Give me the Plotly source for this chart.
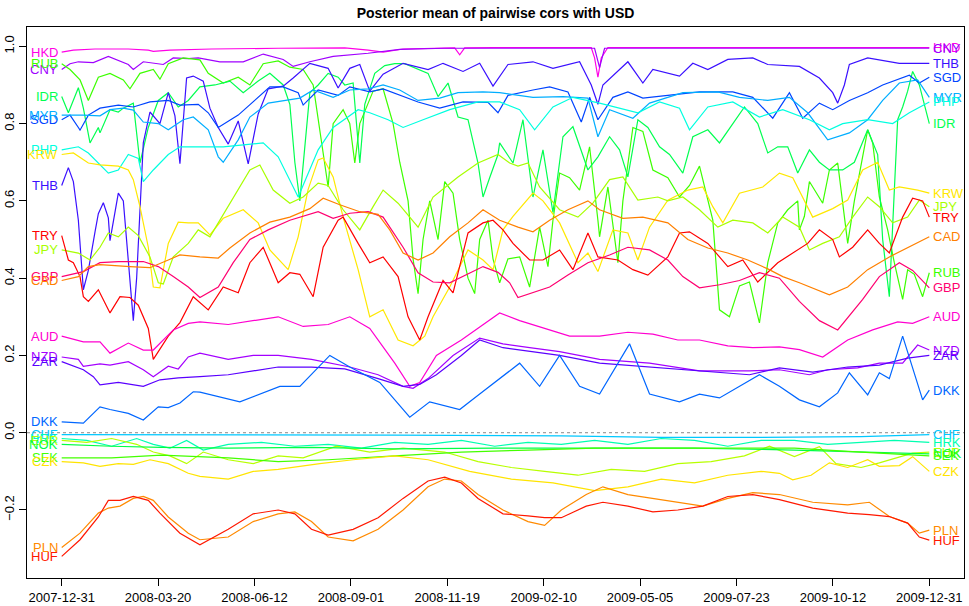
import plotly.graph_objects as go

# ---------------- data ----------------
tick_labels = ["2007-12-31", "2008-03-20", "2008-06-12", "2008-09-01", "2008-11-19",
               "2009-02-10", "2009-05-05", "2009-07-23", "2009-10-12", "2009-12-31"]
last_obs = 521  # trading-day index of 2009-12-31

t_HKD = [0, 7, 20, 40, 52, 55, 65, 90, 130, 170, 184, 193, 205, 236, 239, 242, 260, 318, 320, 322, 324, 328, 400, 521]
v_HKD = [0.985, 0.99, 0.993, 0.993, 0.99, 0.987, 0.99, 0.993, 0.995, 0.996, 0.99, 0.985, 0.993, 0.996, 0.978, 0.996, 0.997, 0.997, 0.97, 0.92, 0.97, 0.997, 0.997, 0.997]

t_CNY = [0, 5, 10, 19, 28, 40, 43, 49, 61, 67, 76, 82, 95, 109, 121, 133, 139, 149, 163, 184, 203, 230, 320, 323, 326, 521]
v_CNY = [0.94, 0.955, 0.96, 0.958, 0.974, 0.953, 0.94, 0.96, 0.953, 0.97, 0.968, 0.97, 0.96, 0.96, 0.98, 0.966, 0.948, 0.96, 0.974, 0.982, 0.992, 0.995, 0.995, 0.945, 0.995, 0.995]

t_RUB = [0, 5, 11, 16, 22, 29, 37, 41, 47, 55, 59, 64, 73, 83, 88, 97, 106, 113, 121, 130, 137, 145, 151, 155, 160, 163, 169, 173, 176, 179, 184, 187, 193, 199, 203, 208, 211, 214, 217, 221, 226, 230, 235, 239, 244, 248, 251, 256, 259, 263, 268, 275, 281, 287, 292, 295, 299, 305, 311, 317, 322, 323, 328, 334, 337, 343, 349, 355, 364, 371, 377, 383, 391, 395, 401, 407, 413, 419, 424, 430, 436, 442, 443, 446, 449, 457, 461, 466, 472, 476, 484, 487, 491, 496, 500, 505, 508, 512, 517, 521]
v_RUB = [0.955, 0.94, 0.913, 0.86, 0.92, 0.93, 0.913, 0.89, 0.93, 0.94, 0.915, 0.955, 0.97, 0.965, 0.93, 0.905, 0.92, 0.9, 0.955, 0.962, 0.946, 0.94, 0.9, 0.78, 0.636, 0.8, 0.836, 0.8, 0.698, 0.8, 0.853, 0.884, 0.89, 0.8, 0.7, 0.6, 0.45, 0.36, 0.5, 0.6, 0.5, 0.65, 0.62, 0.5, 0.4, 0.36, 0.5, 0.55, 0.45, 0.388, 0.45, 0.455, 0.377, 0.532, 0.43, 0.55, 0.672, 0.66, 0.628, 0.74, 0.55, 0.507, 0.636, 0.44, 0.6, 0.79, 0.78, 0.68, 0.66, 0.61, 0.64, 0.69, 0.55, 0.318, 0.3, 0.38, 0.39, 0.284, 0.44, 0.543, 0.577, 0.6, 0.525, 0.56, 0.65, 0.594, 0.68, 0.698, 0.49, 0.6, 0.784, 0.75, 0.61, 0.525, 0.44, 0.345, 0.422, 0.41, 0.352, 0.414]

t_IDR = [0, 4, 10, 13, 17, 22, 23, 29, 34, 37, 43, 47, 52, 58, 64, 70, 76, 83, 92, 101, 109, 118, 125, 133, 137, 140, 143, 146, 149, 154, 160, 166, 170, 175, 179, 182, 188, 194, 200, 206, 214, 220, 226, 232, 238, 244, 250, 253, 257, 262, 263, 271, 277, 283, 289, 295, 301, 307, 316, 322, 329, 335, 340, 346, 352, 359, 365, 373, 379, 388, 395, 403, 410, 418, 424, 430, 436, 442, 449, 455, 461, 469, 476, 484, 490, 493, 497, 502, 505, 508, 511, 515, 521]
v_IDR = [0.87, 0.828, 0.893, 0.84, 0.75, 0.79, 0.776, 0.836, 0.83, 0.84, 0.853, 0.698, 0.79, 0.86, 0.88, 0.843, 0.86, 0.895, 0.9, 0.91, 0.88, 0.91, 0.93, 0.9, 0.85, 0.7, 0.6, 0.75, 0.88, 0.9, 0.93, 0.92, 0.9, 0.905, 0.698, 0.85, 0.93, 0.95, 0.955, 0.955, 0.94, 0.93, 0.87, 0.905, 0.817, 0.81, 0.698, 0.61, 0.66, 0.72, 0.75, 0.698, 0.81, 0.61, 0.732, 0.57, 0.766, 0.792, 0.68, 0.714, 0.766, 0.732, 0.662, 0.81, 0.79, 0.74, 0.72, 0.672, 0.766, 0.784, 0.75, 0.8, 0.843, 0.8, 0.724, 0.74, 0.74, 0.672, 0.732, 0.7, 0.68, 0.68, 0.7, 0.784, 0.72, 0.5, 0.352, 0.81, 0.843, 0.884, 0.935, 0.9, 0.8]

t_THB = [0, 2, 4, 7, 10, 13, 16, 20, 22, 25, 28, 29, 34, 37, 40, 43, 45, 49, 53, 59, 64, 68, 71, 75, 79, 85, 89, 94, 100, 106, 112, 118, 124, 133, 139, 149, 160, 166, 173, 179, 185, 193, 205, 220, 229, 241, 251, 259, 268, 283, 295, 311, 318, 322, 325, 340, 349, 355, 371, 379, 388, 400, 415, 424, 443, 455, 463, 466, 470, 473, 484, 503, 521]
v_THB = [0.64, 0.665, 0.686, 0.65, 0.55, 0.37, 0.42, 0.52, 0.567, 0.595, 0.556, 0.497, 0.62, 0.6, 0.45, 0.29, 0.4, 0.75, 0.83, 0.8, 0.88, 0.82, 0.696, 0.918, 0.923, 0.91, 0.84, 0.79, 0.747, 0.807, 0.696, 0.825, 0.89, 0.897, 0.918, 0.956, 0.943, 0.892, 0.943, 0.953, 0.884, 0.928, 0.956, 0.94, 0.956, 0.935, 0.956, 0.897, 0.953, 0.96, 0.943, 0.96, 0.9, 0.85, 0.9, 0.96, 0.905, 0.94, 0.923, 0.956, 0.94, 0.966, 0.97, 0.953, 0.948, 0.918, 0.88, 0.853, 0.9, 0.953, 0.97, 0.956, 0.956]

t_SGD = [0, 5, 10, 11, 16, 23, 34, 43, 53, 64, 71, 82, 88, 94, 106, 118, 125, 133, 142, 145, 154, 166, 173, 185, 193, 214, 227, 241, 256, 262, 268, 283, 293, 304, 312, 317, 322, 331, 340, 349, 364, 383, 403, 415, 427, 437, 445, 455, 463, 473, 484, 493, 509, 515, 521]
v_SGD = [0.81, 0.822, 0.79, 0.783, 0.822, 0.84, 0.848, 0.843, 0.856, 0.86, 0.848, 0.85, 0.828, 0.79, 0.822, 0.868, 0.895, 0.895, 0.88, 0.848, 0.887, 0.873, 0.895, 0.882, 0.89, 0.856, 0.84, 0.856, 0.855, 0.828, 0.873, 0.887, 0.895, 0.882, 0.804, 0.868, 0.81, 0.868, 0.882, 0.866, 0.873, 0.882, 0.882, 0.868, 0.814, 0.88, 0.814, 0.853, 0.836, 0.86, 0.88, 0.9, 0.925, 0.905, 0.92]

t_MYR = [0, 13, 23, 29, 37, 43, 49, 58, 64, 73, 79, 88, 94, 97, 106, 113, 124, 133, 143, 151, 163, 173, 184, 193, 203, 214, 227, 238, 253, 263, 283, 301, 316, 322, 329, 343, 353, 373, 394, 407, 424, 437, 448, 460, 473, 484, 493, 503, 514, 521]
v_MYR = [0.822, 0.822, 0.82, 0.836, 0.84, 0.835, 0.804, 0.8, 0.784, 0.81, 0.817, 0.784, 0.714, 0.7, 0.758, 0.817, 0.853, 0.86, 0.866, 0.887, 0.868, 0.887, 0.89, 0.9, 0.887, 0.86, 0.866, 0.88, 0.882, 0.88, 0.868, 0.87, 0.866, 0.766, 0.836, 0.814, 0.853, 0.88, 0.882, 0.868, 0.86, 0.868, 0.828, 0.758, 0.776, 0.81, 0.86, 0.905, 0.913, 0.868]

t_PHP = [0, 10, 16, 22, 28, 34, 40, 46, 49, 55, 64, 71, 83, 97, 109, 121, 130, 142, 154, 163, 178, 185, 196, 205, 217, 233, 250, 263, 275, 284, 295, 307, 323, 346, 359, 371, 377, 388, 403, 419, 433, 449, 461, 469, 484, 499, 509, 521]
v_PHP = [0.732, 0.74, 0.724, 0.698, 0.672, 0.68, 0.72, 0.71, 0.65, 0.68, 0.72, 0.74, 0.74, 0.74, 0.745, 0.75, 0.714, 0.61, 0.732, 0.79, 0.836, 0.828, 0.81, 0.79, 0.81, 0.836, 0.856, 0.856, 0.836, 0.784, 0.843, 0.868, 0.853, 0.828, 0.856, 0.84, 0.784, 0.843, 0.856, 0.817, 0.836, 0.81, 0.784, 0.8, 0.81, 0.8, 0.828, 0.856]

t_KRW = [0, 7, 16, 23, 34, 40, 43, 47, 52, 55, 59, 64, 70, 76, 82, 89, 97, 109, 118, 125, 136, 142, 148, 154, 157, 163, 169, 178, 185, 193, 202, 211, 218, 223, 233, 244, 253, 259, 265, 271, 283, 289, 299, 310, 316, 322, 331, 340, 346, 353, 364, 376, 385, 391, 397, 407, 421, 431, 439, 451, 463, 472, 481, 490, 497, 503, 514, 521]
v_KRW = [0.72, 0.724, 0.698, 0.693, 0.69, 0.68, 0.655, 0.585, 0.48, 0.377, 0.375, 0.49, 0.545, 0.543, 0.543, 0.512, 0.555, 0.577, 0.543, 0.473, 0.422, 0.507, 0.63, 0.706, 0.711, 0.662, 0.558, 0.422, 0.3, 0.318, 0.24, 0.225, 0.25, 0.3, 0.377, 0.473, 0.447, 0.422, 0.525, 0.56, 0.62, 0.6, 0.543, 0.44, 0.465, 0.417, 0.525, 0.517, 0.447, 0.532, 0.602, 0.628, 0.636, 0.585, 0.543, 0.62, 0.636, 0.672, 0.66, 0.558, 0.58, 0.602, 0.68, 0.7, 0.628, 0.636, 0.628, 0.62]

t_JPY = [0, 10, 17, 23, 28, 34, 40, 46, 53, 58, 61, 67, 76, 82, 89, 101, 113, 119, 127, 137, 145, 154, 160, 169, 179, 187, 193, 202, 214, 223, 238, 250, 262, 269, 274, 280, 287, 299, 310, 319, 329, 337, 346, 358, 364, 373, 383, 394, 403, 415, 424, 433, 443, 449, 457, 467, 475, 484, 491, 499, 508, 515, 521]
v_JPY = [0.473, 0.465, 0.447, 0.48, 0.517, 0.507, 0.532, 0.51, 0.455, 0.388, 0.385, 0.455, 0.49, 0.525, 0.507, 0.594, 0.68, 0.693, 0.628, 0.594, 0.61, 0.646, 0.64, 0.577, 0.525, 0.585, 0.628, 0.594, 0.532, 0.61, 0.662, 0.698, 0.72, 0.698, 0.69, 0.698, 0.636, 0.577, 0.558, 0.594, 0.655, 0.662, 0.602, 0.61, 0.6, 0.61, 0.577, 0.532, 0.55, 0.543, 0.517, 0.558, 0.532, 0.473, 0.49, 0.507, 0.558, 0.61, 0.585, 0.543, 0.558, 0.602, 0.585]

t_TRY = [0, 4, 7, 11, 13, 16, 22, 29, 35, 41, 46, 52, 55, 64, 71, 79, 88, 97, 106, 113, 121, 130, 137, 143, 151, 157, 166, 169, 178, 185, 193, 202, 208, 215, 220, 226, 229, 235, 244, 253, 259, 265, 271, 281, 289, 299, 307, 316, 322, 334, 343, 352, 364, 371, 377, 388, 400, 409, 418, 430, 439, 448, 455, 463, 467, 475, 484, 491, 497, 505, 511, 517, 521]
v_TRY = [0.51, 0.447, 0.44, 0.404, 0.352, 0.34, 0.37, 0.31, 0.352, 0.35, 0.33, 0.27, 0.19, 0.25, 0.285, 0.352, 0.318, 0.377, 0.362, 0.44, 0.48, 0.388, 0.414, 0.41, 0.352, 0.48, 0.55, 0.558, 0.49, 0.44, 0.455, 0.404, 0.3, 0.24, 0.3, 0.36, 0.394, 0.362, 0.517, 0.543, 0.55, 0.525, 0.49, 0.447, 0.447, 0.473, 0.422, 0.517, 0.455, 0.447, 0.422, 0.408, 0.455, 0.517, 0.52, 0.49, 0.43, 0.447, 0.39, 0.44, 0.465, 0.49, 0.525, 0.5, 0.455, 0.48, 0.525, 0.49, 0.465, 0.558, 0.607, 0.6, 0.558]

t_GBP = [0, 13, 23, 34, 49, 58, 67, 76, 83, 94, 103, 113, 124, 137, 154, 163, 173, 184, 193, 205, 214, 223, 233, 245, 253, 262, 269, 274, 283, 293, 304, 316, 329, 340, 353, 364, 373, 383, 395, 407, 419, 431, 443, 455, 466, 481, 491, 503, 511, 521]
v_GBP = [0.404, 0.417, 0.44, 0.443, 0.443, 0.43, 0.404, 0.377, 0.35, 0.377, 0.44, 0.5, 0.525, 0.55, 0.572, 0.555, 0.568, 0.572, 0.558, 0.48, 0.414, 0.39, 0.388, 0.414, 0.43, 0.415, 0.388, 0.35, 0.362, 0.377, 0.408, 0.44, 0.46, 0.48, 0.473, 0.447, 0.404, 0.375, 0.383, 0.394, 0.414, 0.4, 0.34, 0.29, 0.266, 0.345, 0.404, 0.44, 0.42, 0.375]

t_CAD = [0, 10, 16, 23, 41, 53, 64, 71, 83, 94, 101, 113, 125, 137, 149, 157, 167, 179, 190, 197, 205, 214, 223, 233, 244, 253, 263, 274, 283, 293, 304, 316, 323, 337, 349, 364, 376, 388, 400, 412, 424, 433, 443, 461, 472, 484, 497, 509, 521]
v_CAD = [0.394, 0.404, 0.43, 0.435, 0.43, 0.427, 0.447, 0.46, 0.455, 0.452, 0.478, 0.517, 0.545, 0.558, 0.58, 0.607, 0.59, 0.572, 0.565, 0.525, 0.465, 0.447, 0.465, 0.507, 0.543, 0.577, 0.55, 0.532, 0.52, 0.55, 0.577, 0.6, 0.577, 0.555, 0.558, 0.543, 0.5, 0.478, 0.465, 0.447, 0.424, 0.404, 0.388, 0.357, 0.377, 0.422, 0.455, 0.48, 0.507]

t_AUD = [0, 13, 23, 29, 40, 49, 55, 67, 76, 83, 100, 115, 130, 145, 160, 173, 185, 200, 209, 215, 225, 240, 253, 263, 275, 290, 305, 323, 340, 355, 370, 383, 400, 415, 431, 443, 457, 472, 487, 502, 511, 521]
v_AUD = [0.25, 0.235, 0.235, 0.206, 0.232, 0.214, 0.214, 0.266, 0.283, 0.287, 0.28, 0.29, 0.3, 0.275, 0.28, 0.3, 0.27, 0.18, 0.12, 0.13, 0.2, 0.24, 0.28, 0.31, 0.29, 0.27, 0.25, 0.25, 0.26, 0.255, 0.24, 0.24, 0.225, 0.22, 0.222, 0.215, 0.196, 0.24, 0.266, 0.287, 0.283, 0.3]

t_NZD = [0, 10, 13, 23, 29, 40, 49, 55, 64, 70, 76, 83, 100, 115, 130, 150, 173, 190, 205, 211, 220, 235, 251, 265, 281, 299, 323, 353, 383, 413, 431, 449, 460, 478, 491, 505, 514, 521]
v_NZD = [0.196, 0.19, 0.172, 0.178, 0.175, 0.184, 0.163, 0.145, 0.172, 0.165, 0.196, 0.206, 0.19, 0.2, 0.2, 0.19, 0.17, 0.15, 0.12, 0.115, 0.14, 0.2, 0.245, 0.23, 0.22, 0.21, 0.19, 0.18, 0.16, 0.16, 0.163, 0.15, 0.163, 0.168, 0.18, 0.18, 0.227, 0.214]

t_ZAR = [0, 13, 19, 23, 34, 43, 49, 59, 70, 83, 100, 115, 130, 150, 170, 190, 205, 215, 225, 240, 251, 265, 281, 299, 323, 353, 383, 413, 431, 451, 472, 491, 508, 521]
v_ZAR = [0.184, 0.163, 0.145, 0.124, 0.13, 0.125, 0.12, 0.137, 0.142, 0.145, 0.15, 0.16, 0.17, 0.17, 0.165, 0.14, 0.12, 0.125, 0.15, 0.2, 0.24, 0.22, 0.21, 0.2, 0.18, 0.17, 0.16, 0.15, 0.168, 0.157, 0.17, 0.175, 0.193, 0.2]

t_DKK = [0, 13, 23, 29, 40, 49, 58, 64, 71, 79, 83, 107, 131, 143, 161, 173, 191, 209, 221, 239, 251, 263, 275, 287, 299, 311, 323, 341, 353, 371, 383, 395, 419, 431, 443, 455, 466, 473, 484, 491, 497, 505, 514, 517, 521]
v_DKK = [0.028, 0.025, 0.067, 0.06, 0.05, 0.033, 0.067, 0.065, 0.077, 0.106, 0.105, 0.08, 0.12, 0.12, 0.2, 0.17, 0.13, 0.04, 0.08, 0.06, 0.1, 0.14, 0.18, 0.12, 0.2, 0.12, 0.1, 0.23, 0.1, 0.08, 0.1, 0.09, 0.15, 0.12, 0.085, 0.067, 0.103, 0.155, 0.098, 0.155, 0.14, 0.25, 0.13, 0.085, 0.11]

t_CHF = [0, 60, 120, 200, 300, 360, 420, 480, 521]
v_CHF = [-0.005, -0.005, -0.006, -0.006, -0.008, -0.012, -0.012, -0.01, -0.005]

t_HRK = [0, 15, 30, 45, 55, 65, 75, 85, 100, 120, 140, 160, 180, 200, 220, 240, 260, 280, 300, 320, 340, 360, 380, 400, 420, 440, 460, 480, 500, 521]
v_HRK = [-0.015, -0.02, -0.035, -0.015, -0.03, -0.04, -0.02, -0.045, -0.03, -0.025, -0.035, -0.03, -0.04, -0.025, -0.03, -0.02, -0.035, -0.025, -0.03, -0.02, -0.03, -0.015, -0.02, -0.035, -0.02, -0.02, -0.03, -0.025, -0.02, -0.025]

t_EUR = [0, 15, 30, 45, 55, 65, 75, 85, 100, 115, 130, 145, 165, 185, 205, 230, 250, 270, 290, 310, 330, 350, 370, 390, 410, 425, 440, 455, 465, 480, 491, 503, 511, 521]
v_EUR = [-0.02, -0.025, -0.015, -0.03, -0.05, -0.06, -0.08, -0.05, -0.07, -0.08, -0.06, -0.065, -0.035, -0.05, -0.04, -0.05, -0.075, -0.09, -0.1, -0.11, -0.095, -0.1, -0.08, -0.075, -0.06, -0.035, -0.062, -0.036, -0.08, -0.09, -0.078, -0.062, -0.053, -0.05]

t_NOK = [0, 30, 60, 100, 150, 200, 260, 320, 380, 440, 480, 521]
v_NOK = [-0.03, -0.035, -0.038, -0.04, -0.038, -0.042, -0.04, -0.04, -0.04, -0.045, -0.05, -0.055]

t_SEK = [0, 30, 60, 100, 130, 160, 200, 240, 280, 320, 360, 400, 440, 480, 521]
v_SEK = [-0.065, -0.065, -0.058, -0.065, -0.075, -0.07, -0.06, -0.05, -0.045, -0.04, -0.04, -0.04, -0.04, -0.05, -0.06]

t_CZK = [0, 13, 23, 34, 43, 53, 64, 76, 83, 100, 115, 130, 155, 175, 200, 220, 245, 270, 295, 320, 340, 360, 380, 400, 420, 431, 439, 450, 461, 472, 484, 491, 503, 511, 521]
v_CZK = [-0.075, -0.078, -0.087, -0.08, -0.082, -0.07, -0.08, -0.105, -0.113, -0.12, -0.1, -0.095, -0.08, -0.07, -0.06, -0.07, -0.1, -0.12, -0.13, -0.15, -0.14, -0.12, -0.13, -0.11, -0.1, -0.105, -0.122, -0.11, -0.078, -0.09, -0.07, -0.087, -0.085, -0.062, -0.1]

t_PLN = [0, 11, 22, 28, 35, 43, 49, 55, 64, 76, 83, 100, 115, 130, 140, 150, 160, 175, 190, 205, 220, 230, 240, 250, 265, 280, 290, 300, 315, 325, 340, 355, 370, 385, 400, 415, 431, 451, 472, 485, 497, 508, 515, 521]
v_PLN = [-0.297, -0.26, -0.208, -0.195, -0.19, -0.17, -0.165, -0.175, -0.218, -0.26, -0.277, -0.27, -0.23, -0.21, -0.205, -0.23, -0.27, -0.28, -0.25, -0.2, -0.14, -0.12, -0.125, -0.16, -0.2, -0.23, -0.24, -0.2, -0.16, -0.14, -0.16, -0.17, -0.18, -0.19, -0.17, -0.155, -0.16, -0.18, -0.187, -0.18, -0.217, -0.234, -0.26, -0.252]

t_HUF = [0, 11, 22, 28, 35, 43, 52, 59, 71, 83, 100, 115, 130, 140, 150, 160, 175, 190, 205, 220, 230, 240, 250, 265, 280, 290, 300, 315, 325, 340, 355, 370, 385, 400, 415, 431, 451, 472, 485, 497, 508, 515, 521]
v_HUF = [-0.32, -0.277, -0.218, -0.175, -0.175, -0.165, -0.175, -0.208, -0.26, -0.29, -0.25, -0.21, -0.2, -0.21, -0.25, -0.265, -0.25, -0.22, -0.17, -0.125, -0.115, -0.13, -0.17, -0.21, -0.215, -0.22, -0.22, -0.19, -0.18, -0.19, -0.205, -0.2, -0.19, -0.165, -0.16, -0.173, -0.195, -0.208, -0.212, -0.217, -0.234, -0.27, -0.278]

currencies = ["HKD", "CNY", "RUB", "IDR", "THB", "SGD", "MYR", "PHP", "KRW", "JPY", "TRY",
              "GBP", "CAD", "AUD", "NZD", "ZAR", "DKK", "CHF", "HRK", "EUR", "NOK", "SEK",
              "CZK", "PLN", "HUF"]
colors = {"HKD": "#FF00E6", "CNY": "#A000FF", "RUB": "#3CFF00", "IDR": "#00FF50",
          "THB": "#3A10FF", "SGD": "#0044FF", "MYR": "#00AEFF", "PHP": "#00FFE0",
          "KRW": "#FFE800", "JPY": "#A8FF00", "TRY": "#FF0000", "GBP": "#FF0070",
          "CAD": "#FF8000", "AUD": "#FF00D0", "NZD": "#A400FF", "ZAR": "#5A00FF",
          "DKK": "#0066FF", "CHF": "#00C8FF", "HRK": "#00FFB0", "EUR": "#B8FF00",
          "NOK": "#00FF44", "SEK": "#44FF00", "CZK": "#FFE400", "PLN": "#FF8A00",
          "HUF": "#FF1800"}

series = {c: (globals()["t_" + c], globals()["v_" + c]) for c in currencies}

# ---------------- figure ----------------
fig = go.Figure()
FONT = "Liberation Sans, Arial, sans-serif"

for c in currencies:
    t, v = series[c]
    fig.add_trace(go.Scatter(x=t, y=v, mode="lines", name=c,
                             line=dict(color=colors[c], width=1.2),
                             hoverinfo="skip", showlegend=False))

annotations = []
for c in currencies:
    t, v = series[c]
    annotations.append(dict(x=t[0], y=v[0], text=c, showarrow=False, xanchor="right",
                            yanchor="middle", xshift=-2, font=dict(color=colors[c], size=13, family=FONT)))
    annotations.append(dict(x=t[-1], y=v[-1], text=c, showarrow=False, xanchor="left",
                            yanchor="middle", xshift=2, font=dict(color=colors[c], size=13, family=FONT)))

pad = 0.04 * last_obs
tickvals = [i * last_obs / 9 for i in range(10)]

fig.update_layout(
    width=969, height=606,
    margin=dict(l=27, r=5, t=27, b=28),
    paper_bgcolor="white", plot_bgcolor="white",
    font=dict(family=FONT, size=13, color="black"),
    title=dict(text="<b>Posterior mean of pairwise cors with USD</b>",
               x=0.5, xref="paper", y=1 - 13 / 606, yref="container",
               xanchor="center", yanchor="middle", font=dict(size=14, family=FONT)),
    annotations=annotations,
    shapes=[dict(type="line", xref="paper", x0=0, x1=1, yref="y", y0=0, y1=0,
                 line=dict(color="#888888", width=1, dash="dot"))],
    showlegend=False,
)
fig.update_xaxes(range=[-pad, last_obs + pad], tickvals=tickvals, ticktext=tick_labels,
                 showgrid=False, zeroline=False, showline=True, linecolor="black",
                 linewidth=1, mirror=True, ticks="outside", ticklen=7, tickcolor="black",
                 tickfont=dict(size=13, family=FONT), automargin=False)
fig.update_yaxes(range=[-0.376, 1.05], tickvals=[-0.2, 0, 0.2, 0.4, 0.6, 0.8, 1.0],
                 ticktext=["\u22120.2", "0.0", "0.2", "0.4", "0.6", "0.8", "1.0"],
                 tickangle=-90, showgrid=False, zeroline=False, showline=True,
                 linecolor="black", linewidth=1, mirror=True, ticks="outside", ticklen=7,
                 tickcolor="black", tickfont=dict(size=13, family=FONT), automargin=False)

fig.write_html("out.html", config={"displayModeBar": False},
               post_script="document.body.style.margin='0';document.body.style.overflow='hidden';")
